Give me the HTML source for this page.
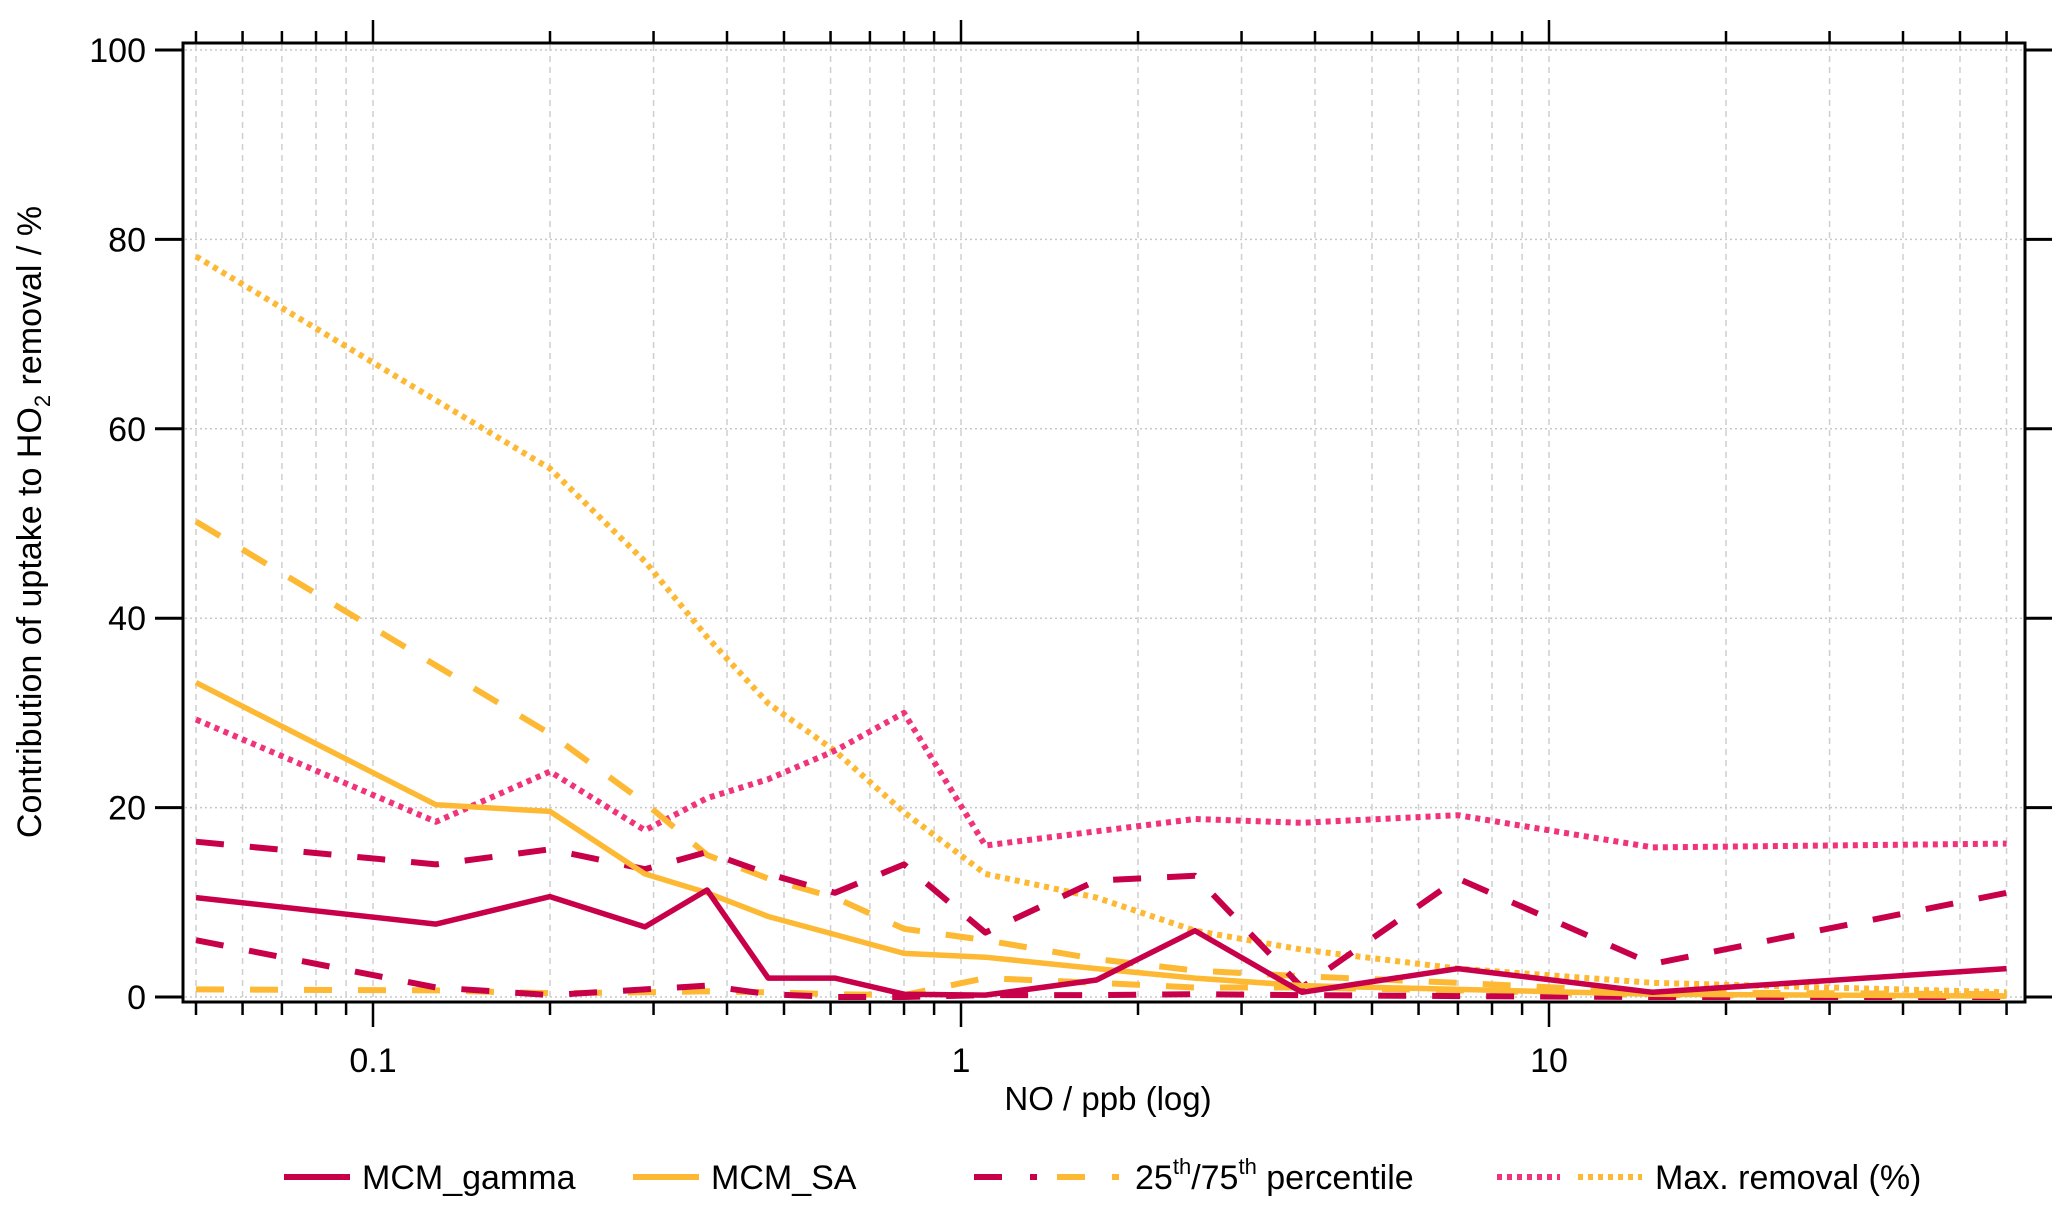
<!DOCTYPE html>
<html><head><meta charset="utf-8">
<style>
html,body{margin:0;padding:0;background:#fff;}
svg{display:block;font-family:"Liberation Sans",Arial,sans-serif;}
</style></head>
<body>
<svg id="chart" width="2067" height="1213" viewBox="0 0 2067 1213" xmlns="http://www.w3.org/2000/svg">
<g id="grid"></g>
<g id="series"></g>
<rect x="183" y="43" width="1842" height="959" fill="none" stroke="#000" stroke-width="3"/>
<g id="axes"></g>
<text x="1108" y="1110" font-size="33" text-anchor="middle">NO / ppb (log)</text>
<text transform="translate(41,522) rotate(-90)" font-size="34" text-anchor="middle">Contribution of uptake to HO<tspan font-size="22" dy="9">2</tspan><tspan dy="-9"> removal / %</tspan></text>
<g id="legend">
<g>
<line x1="284" y1="1177" x2="350" y2="1177" stroke="#c8004a" stroke-width="6"/>
<text x="362" y="1189" font-size="34">MCM_gamma</text></g>
<g>
<line x1="633" y1="1177" x2="699" y2="1177" stroke="#fdb933" stroke-width="6"/>
<text x="711" y="1189" font-size="34">MCM_SA</text></g>
<g>
<line x1="974" y1="1177" x2="1002" y2="1177" stroke="#c8004a" stroke-width="6"/>
<line x1="1030" y1="1177" x2="1037" y2="1177" stroke="#c8004a" stroke-width="6"/>
<line x1="1057" y1="1177" x2="1085" y2="1177" stroke="#fdb933" stroke-width="6"/>
<line x1="1112" y1="1177" x2="1119" y2="1177" stroke="#fdb933" stroke-width="6"/>
<text x="1135" y="1189" font-size="34">25<tspan font-size="22" dy="-15">th</tspan><tspan dy="15">/75</tspan><tspan font-size="22" dy="-15">th</tspan><tspan dy="15"> percentile</tspan></text></g>
<g>
<line x1="1497" y1="1177" x2="1560" y2="1177" stroke="#f0337a" stroke-width="6" stroke-dasharray="5,5"/>
<line x1="1578" y1="1177" x2="1642" y2="1177" stroke="#fdb933" stroke-width="6" stroke-dasharray="5,5"/>
<text x="1655" y="1189" font-size="34">Max. removal (%)</text></g>
</g>
</svg>
<script>
const xValues=[0.05,0.128,0.2,0.29,0.37,0.47,0.61,0.8,1.1,1.7,2.5,3.8,7,15,60];
const gamma=[10.5,7.7,10.6,7.4,11.3,2,2,0.3,0.2,1.8,7,0.5,3,0.5,3];
const gammaP75=[16.4,14,15.6,13.5,15.3,13,11,14,6.8,12.3,12.8,1,12.5,3.5,11];
const gammaP25=[6,1,0.2,0.8,1.2,0.3,0,0,0.2,0.2,0.3,0.2,0.1,0,0];
const gammaMax=[29.3,18.5,23.8,17.6,21,23,26,30,16,17.5,18.8,18.4,19.2,15.8,16.2];
const sa=[33.2,20.3,19.6,13,11,8.5,6.6,4.6,4.2,3,2,1.2,0.8,0.3,0.1];
const saP75=[50.2,35,27.8,20.5,15,12.5,10.5,7.2,6,4,2.8,2.2,1.5,0.5,0.3];
const saP25=[0.8,0.7,0.4,0.5,0.6,0.5,0.3,0.2,2,1.5,1,1,0.7,0.2,0.1];
const saMax=[78.2,63,55.8,46,38,31,26,19.5,13,10.5,7,5,3,1.5,0.5];
const yTicks=[0,20,40,60,80,100];
const xMajor=[0.1,1,10];
const xMajorLabels=["0.1","1","10"];
const xMinor=[0.05,0.06,0.07,0.08,0.09,0.2,0.3,0.4,0.5,0.6,0.7,0.8,0.9,2,3,4,5,6,7,8,9,20,30,40,50,60];

const NS="http://www.w3.org/2000/svg";
const X=v=>961+588*Math.log10(v);
const Y=v=>997-9.47*v;
function mk(tag,attrs,parent){const e=document.createElementNS(NS,tag);for(const k in attrs)e.setAttribute(k,attrs[k]);parent.appendChild(e);return e;}
const grid=document.getElementById('grid'),axes=document.getElementById('axes'),ser=document.getElementById('series');
yTicks.forEach(t=>{
  const g=mk('line',{x1:185,x2:2023,y1:Y(t),y2:Y(t),stroke:'#c8c8c8','stroke-width':1.5,'stroke-dasharray':'2,3'},grid);
  
  
  const l=mk('line',{x1:155,x2:183,y1:Y(t),y2:Y(t),stroke:'#000','stroke-width':3},axes);
  
  
  const r=mk('line',{x1:2025,x2:2052,y1:Y(t),y2:Y(t),stroke:'#000','stroke-width':3},axes);
  
  
  const tx=mk('text',{x:146,y:Y(t)+12,'font-size':34,'text-anchor':'end'},axes);
  tx.textContent=t;
  
  
});
xMinor.concat(xMajor).forEach(v=>{
  const maj=xMajor.includes(v);
  const g=mk('line',{x1:X(v),x2:X(v),y1:45,y2:1000,stroke:'#cfcfcf','stroke-width':1.5,'stroke-dasharray':'6,5'},grid);
  
  
  const b=mk('line',{x1:X(v),x2:X(v),y1:1002,y2:maj?1027:1015,stroke:'#000','stroke-width':2.5},axes);
  
  
  const t=mk('line',{x1:X(v),x2:X(v),y1:43,y2:maj?20:31,stroke:'#000','stroke-width':2.5},axes);
  
  
});
xMajor.forEach((v,i)=>{
  const tx=mk('text',{x:X(v),y:1072,'font-size':34,'text-anchor':'middle'},axes);
  tx.textContent=xMajorLabels[i];
  
  
});
function line(vals,color,w,dash,name){
  const pts=vals.map((v,i)=>X(xValues[i]).toFixed(1)+','+Y(v).toFixed(1)).join(' ');
  const p=mk('polyline',{points:pts,fill:'none',stroke:color,'stroke-width':w,'stroke-dasharray':dash,'stroke-linejoin':'round'},ser);
  
  
}
line(saMax,'#fdb933',6,'5,5','mcm-sa-max-removal');
line(gammaMax,'#f0337a',6,'5,5','mcm-gamma-max-removal');
line(saP75,'#fdb933',6,'28,26','mcm-sa-75th-percentile');
line(saP25,'#fdb933',6,'28,26','mcm-sa-25th-percentile');
line(gammaP75,'#c8004a',6,'28,26','mcm-gamma-75th-percentile');
line(gammaP25,'#c8004a',6,'28,26','mcm-gamma-25th-percentile');
line(sa,'#fdb933',5.5,'none','mcm-sa-line');
line(gamma,'#c8004a',5.5,'none','mcm-gamma-line');
</script>
</body></html>
